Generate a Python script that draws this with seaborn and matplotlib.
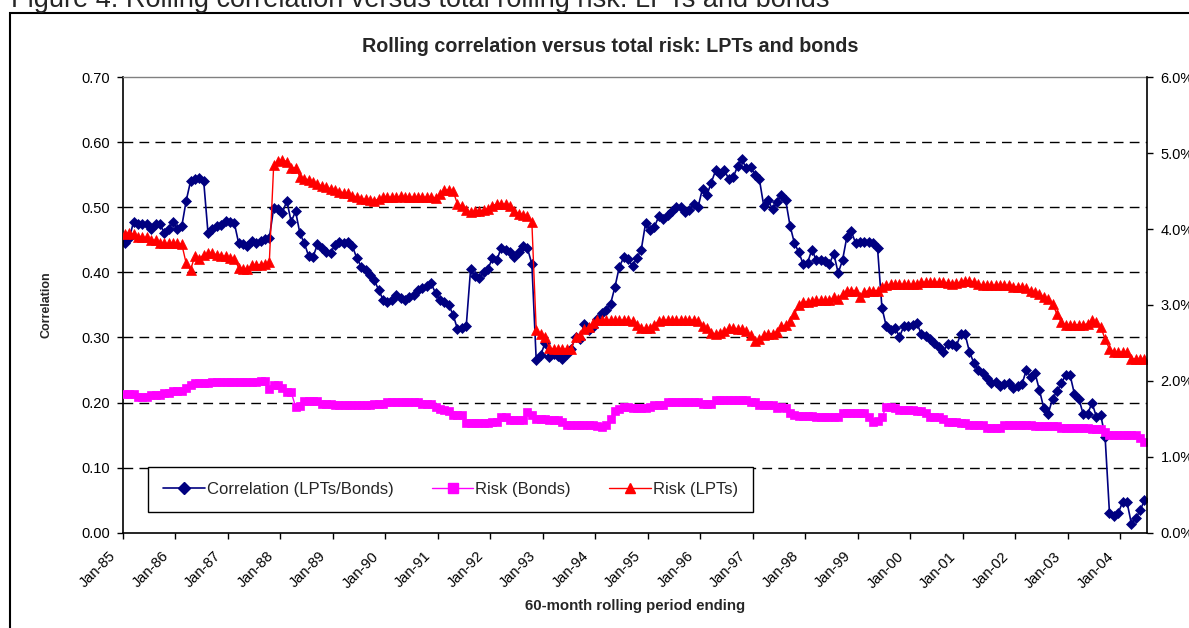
import numpy as np
import pandas as pd
import matplotlib
matplotlib.use("Agg")
import matplotlib.pyplot as plt
import matplotlib.transforms as mtransforms
from matplotlib.lines import Line2D
from matplotlib.patches import Rectangle
from matplotlib.ticker import FuncFormatter
import seaborn as sns

sns.set_theme(style="white")
plt.rcParams['font.family'] = ['Liberation Sans', 'DejaVu Sans']
plt.rcParams['lines.scale_dashes'] = False

# 1. DATA (monthly, 60-month rolling windows ending Jan-85 ... Jun-04)

tick_labels = ["Jan-85", "Jan-86", "Jan-87", "Jan-88", "Jan-89", "Jan-90", "Jan-91",
               "Jan-92", "Jan-93", "Jan-94", "Jan-95", "Jan-96", "Jan-97", "Jan-98",
               "Jan-99", "Jan-00", "Jan-01", "Jan-02", "Jan-03", "Jan-04"]

# rolling correlation LPTs / bonds (left axis)
corr = [
    0.445, 0.453, 0.478, 0.475, 0.475, 0.474, 0.467, 0.475, 0.475, 0.460, 0.467, 0.478,
    0.467, 0.471, 0.510, 0.540, 0.544, 0.545, 0.541, 0.460, 0.467, 0.471, 0.473, 0.479,
    0.477, 0.476, 0.445, 0.443, 0.440, 0.448, 0.446, 0.448, 0.452, 0.453, 0.499, 0.497,
    0.492, 0.510, 0.478, 0.494, 0.460, 0.445, 0.425, 0.424, 0.443, 0.437, 0.432, 0.430,
    0.442, 0.447, 0.445, 0.447, 0.440, 0.422, 0.409, 0.404, 0.396, 0.388, 0.373, 0.358,
    0.355, 0.357, 0.365, 0.361, 0.358, 0.363, 0.365, 0.373, 0.376, 0.379, 0.383, 0.368,
    0.358, 0.355, 0.350, 0.335, 0.313, 0.314, 0.317, 0.405, 0.394, 0.391, 0.401, 0.406,
    0.422, 0.419, 0.438, 0.435, 0.431, 0.424, 0.432, 0.440, 0.437, 0.413, 0.265, 0.273,
    0.291, 0.270, 0.275, 0.272, 0.267, 0.275, 0.283, 0.301, 0.298, 0.321, 0.311, 0.316,
    0.329, 0.337, 0.343, 0.352, 0.378, 0.409, 0.423, 0.420, 0.410, 0.422, 0.435, 0.476,
    0.465, 0.470, 0.486, 0.482, 0.489, 0.494, 0.501, 0.501, 0.493, 0.496, 0.505, 0.501,
    0.529, 0.519, 0.538, 0.557, 0.552, 0.558, 0.543, 0.546, 0.563, 0.574, 0.560, 0.562,
    0.550, 0.543, 0.502, 0.511, 0.497, 0.508, 0.519, 0.511, 0.472, 0.445, 0.431, 0.413,
    0.415, 0.435, 0.419, 0.419, 0.417, 0.413, 0.429, 0.399, 0.419, 0.455, 0.463, 0.445,
    0.447, 0.447, 0.447, 0.446, 0.437, 0.346, 0.317, 0.311, 0.315, 0.301, 0.317, 0.318,
    0.319, 0.322, 0.305, 0.303, 0.297, 0.292, 0.286, 0.277, 0.290, 0.290, 0.287, 0.305,
    0.305, 0.278, 0.261, 0.250, 0.245, 0.237, 0.230, 0.232, 0.225, 0.228, 0.230, 0.222,
    0.225, 0.228, 0.250, 0.239, 0.245, 0.219, 0.191, 0.183, 0.206, 0.217, 0.230, 0.242,
    0.242, 0.213, 0.206, 0.182, 0.182, 0.200, 0.178, 0.181, 0.147, 0.030, 0.025, 0.030,
    0.047, 0.047, 0.014, 0.022, 0.034, 0.050,
]

# total risk of bonds, % (right axis)
risk_bonds = [
    1.82, 1.82, 1.82, 1.79, 1.79, 1.79, 1.81, 1.81, 1.81, 1.84, 1.84, 1.87,
    1.87, 1.87, 1.90, 1.95, 1.97, 1.97, 1.97, 1.97, 1.98, 1.98, 1.98, 1.98,
    1.98, 1.98, 1.99, 1.99, 1.99, 1.99, 1.99, 2.00, 2.00, 1.89, 1.95, 1.94,
    1.90, 1.85, 1.85, 1.66, 1.67, 1.73, 1.73, 1.73, 1.73, 1.70, 1.70, 1.70,
    1.68, 1.68, 1.68, 1.68, 1.68, 1.68, 1.68, 1.68, 1.68, 1.70, 1.70, 1.70,
    1.72, 1.72, 1.72, 1.72, 1.72, 1.72, 1.72, 1.72, 1.69, 1.69, 1.69, 1.66,
    1.63, 1.61, 1.60, 1.55, 1.55, 1.55, 1.45, 1.44, 1.44, 1.44, 1.44, 1.45,
    1.46, 1.46, 1.52, 1.52, 1.48, 1.48, 1.48, 1.48, 1.59, 1.55, 1.50, 1.50,
    1.50, 1.48, 1.48, 1.48, 1.46, 1.42, 1.42, 1.42, 1.42, 1.42, 1.42, 1.42,
    1.40, 1.39, 1.42, 1.50, 1.60, 1.63, 1.66, 1.66, 1.64, 1.64, 1.64, 1.64,
    1.65, 1.68, 1.68, 1.68, 1.72, 1.72, 1.72, 1.72, 1.72, 1.72, 1.72, 1.72,
    1.70, 1.70, 1.70, 1.75, 1.75, 1.75, 1.75, 1.75, 1.75, 1.75, 1.75, 1.72,
    1.72, 1.68, 1.68, 1.68, 1.68, 1.64, 1.65, 1.64, 1.58, 1.55, 1.54, 1.54,
    1.54, 1.54, 1.52, 1.52, 1.52, 1.52, 1.52, 1.52, 1.58, 1.58, 1.58, 1.58,
    1.58, 1.58, 1.53, 1.46, 1.47, 1.52, 1.66, 1.66, 1.64, 1.61, 1.61, 1.61,
    1.61, 1.60, 1.60, 1.58, 1.53, 1.53, 1.53, 1.50, 1.46, 1.46, 1.46, 1.45,
    1.44, 1.42, 1.42, 1.42, 1.42, 1.38, 1.38, 1.38, 1.38, 1.42, 1.42, 1.42,
    1.42, 1.42, 1.42, 1.42, 1.40, 1.40, 1.40, 1.40, 1.40, 1.40, 1.38, 1.38,
    1.38, 1.38, 1.38, 1.38, 1.38, 1.36, 1.36, 1.36, 1.33, 1.29, 1.29, 1.29,
    1.29, 1.29, 1.29, 1.29, 1.25, 1.20,
]

# total risk of LPTs, % (right axis)
risk_lpts = [
    3.94, 3.95, 3.93, 3.90, 3.89, 3.89, 3.86, 3.85, 3.82, 3.81, 3.81, 3.81,
    3.81, 3.80, 3.55, 3.46, 3.65, 3.61, 3.66, 3.68, 3.68, 3.66, 3.65, 3.64,
    3.62, 3.61, 3.49, 3.48, 3.47, 3.52, 3.53, 3.53, 3.54, 3.56, 4.84, 4.90,
    4.91, 4.89, 4.80, 4.81, 4.69, 4.66, 4.65, 4.62, 4.59, 4.57, 4.55, 4.53,
    4.52, 4.49, 4.48, 4.47, 4.44, 4.42, 4.40, 4.39, 4.38, 4.37, 4.40, 4.42,
    4.42, 4.42, 4.42, 4.43, 4.42, 4.42, 4.42, 4.42, 4.42, 4.42, 4.42, 4.41,
    4.46, 4.51, 4.52, 4.50, 4.33, 4.30, 4.25, 4.22, 4.24, 4.24, 4.25, 4.27,
    4.31, 4.33, 4.33, 4.33, 4.31, 4.24, 4.20, 4.19, 4.17, 4.09, 2.67, 2.62,
    2.58, 2.43, 2.42, 2.42, 2.42, 2.42, 2.42, 2.58, 2.60, 2.68, 2.71, 2.76,
    2.80, 2.80, 2.80, 2.80, 2.80, 2.80, 2.80, 2.80, 2.79, 2.73, 2.70, 2.69,
    2.69, 2.74, 2.79, 2.80, 2.80, 2.80, 2.80, 2.80, 2.80, 2.80, 2.80, 2.79,
    2.72, 2.69, 2.63, 2.62, 2.63, 2.66, 2.69, 2.69, 2.68, 2.68, 2.66, 2.60,
    2.53, 2.55, 2.60, 2.62, 2.62, 2.65, 2.72, 2.73, 2.79, 2.88, 3.00, 3.04,
    3.04, 3.05, 3.06, 3.06, 3.06, 3.06, 3.10, 3.08, 3.14, 3.19, 3.19, 3.19,
    3.11, 3.17, 3.19, 3.19, 3.19, 3.24, 3.26, 3.27, 3.27, 3.27, 3.27, 3.27,
    3.27, 3.27, 3.30, 3.30, 3.30, 3.30, 3.30, 3.30, 3.29, 3.28, 3.29, 3.30,
    3.32, 3.32, 3.30, 3.27, 3.26, 3.26, 3.26, 3.26, 3.26, 3.26, 3.26, 3.24,
    3.24, 3.24, 3.22, 3.18, 3.17, 3.14, 3.10, 3.08, 3.01, 2.88, 2.77, 2.74,
    2.74, 2.74, 2.74, 2.74, 2.75, 2.80, 2.77, 2.71, 2.55, 2.42, 2.38, 2.38,
    2.38, 2.38, 2.29, 2.29, 2.29, 2.29,
]

df = pd.DataFrame({
    "period": np.arange(len(corr)),
    "corr": corr,
    "bonds": risk_bonds,
    "lpts": risk_lpts,
})

navy, magenta, red = "#000080", "#FF00FF", "#FF0000"

# 2. FIGURE

fig = plt.figure(figsize=(11.89, 6.28), dpi=100)
ax = fig.add_axes([0.1032, 0.1519, 0.8612, 0.7250])
ax2 = ax.twinx()

sns.lineplot(data=df, x="period", y="corr", ax=ax, color=navy, linewidth=1.2,
             marker="D", markersize=5, markeredgecolor=navy, markeredgewidth=0.5)
sns.lineplot(data=df, x="period", y="bonds", ax=ax2, color=magenta, linewidth=1,
             marker="s", markersize=6, markeredgecolor=magenta, markeredgewidth=0.5)
sns.lineplot(data=df, x="period", y="lpts", ax=ax2, color=red, linewidth=1,
             marker="^", markersize=6.5, markeredgecolor=red, markeredgewidth=0.5)

ax.set_xlim(-0.5, len(corr) - 0.5)
ax.set_ylim(0, 0.7)
ax2.set_ylim(0, 6)

# ticks sit between categories, one per year; labels drawn as rotated texts
xticks = np.arange(-0.5, len(corr), 12)
ax.set_xticks(xticks)
ax.set_xticklabels([])
lbl_trans = ax.get_xaxis_transform() + mtransforms.ScaledTranslation(
    -0.09, -0.215, fig.dpi_scale_trans)
for xt, lab in zip(xticks, tick_labels):
    ax.text(xt, 0, lab, transform=lbl_trans, rotation=45, ha="right", va="center",
            rotation_mode="anchor", fontsize=10.5, color="black", clip_on=False)

ax.set_yticks(np.arange(0, 0.71, 0.1))
ax.yaxis.set_major_formatter(FuncFormatter(lambda v, p: f"{v:.2f}"))
ax2.set_yticks(np.arange(0, 7, 1))
ax2.yaxis.set_major_formatter(FuncFormatter(lambda v, p: f"{v:.1f}%"))

ax.tick_params(axis="x", bottom=True, direction="out", length=4, width=1,
               colors="black")
ax.tick_params(axis="y", left=True, direction="out", length=4.3, width=1,
               pad=5, labelsize=10.5, colors="black")
ax2.tick_params(axis="y", right=True, direction="out", length=4, width=1,
                pad=6, labelsize=10.5, colors="black")

# dashed horizontal gridlines between the borders
for v in ax.get_yticks()[1:-1]:
    ax.axhline(v, color="black", linewidth=1, linestyle=(0, (7, 4.5)), zorder=0.5)

ax.set_xlabel("")
ax.set_ylabel("")
ax2.set_ylabel("")

for side in ["left", "bottom"]:
    ax.spines[side].set_color("black")
    ax.spines[side].set_linewidth(1.2)
ax.spines["top"].set_color("#808080")
ax.spines["top"].set_linewidth(1)
ax.spines["right"].set_visible(False)
for side in ["left", "bottom", "top"]:
    ax2.spines[side].set_visible(False)
ax2.spines["right"].set_color("black")
ax2.spines["right"].set_linewidth(1.2)

# legend
handles = [
    Line2D([], [], color=navy, marker="D", markersize=6, linewidth=1.2),
    Line2D([], [], color=magenta, marker="s", markersize=6.5, linewidth=1),
    Line2D([], [], color=red, marker="^", markersize=7, linewidth=1),
]
leg = ax2.legend(handles, ["Correlation (LPTs/Bonds)", "Risk (Bonds)", "Risk (LPTs)"],
                 loc="upper left", bbox_to_anchor=(0.0247, 0.1447), ncol=3,
                 fontsize=12, frameon=True, fancybox=False, framealpha=1,
                 edgecolor="black", borderpad=0.9, borderaxespad=0,
                 handlelength=2.5, handletextpad=0.12, columnspacing=2.3)
leg.get_frame().set_linewidth(1)

# texts
fig.text(610 / 1189, 1 - 46 / 628, "Rolling correlation versus total risk: LPTs and bonds",
         ha="center", va="center", fontsize=14.2, fontweight="bold")
fig.text(46 / 1189, 1 - 305 / 628, "Correlation", rotation=90, ha="center",
         va="center", fontsize=9, fontweight="bold")
fig.text(635 / 1189, 1 - 606 / 628, "60-month rolling period ending", ha="center",
         va="center", fontsize=10.8, fontweight="bold")
fig.text(11 / 1189, 1 - 7 / 628, "Figure 4: Rolling correlation versus total rolling risk: LPTs and bonds",
         ha="left", va="baseline", fontsize=19.5)

# chart-area frame
fig.add_artist(Rectangle((10 / 1189, -0.05), 1.2, 1 - 12.7 / 628 + 0.05,
                         transform=fig.transFigure, fill=False,
                         edgecolor="black", linewidth=1.5))

fig.savefig("out.png", dpi=100)
